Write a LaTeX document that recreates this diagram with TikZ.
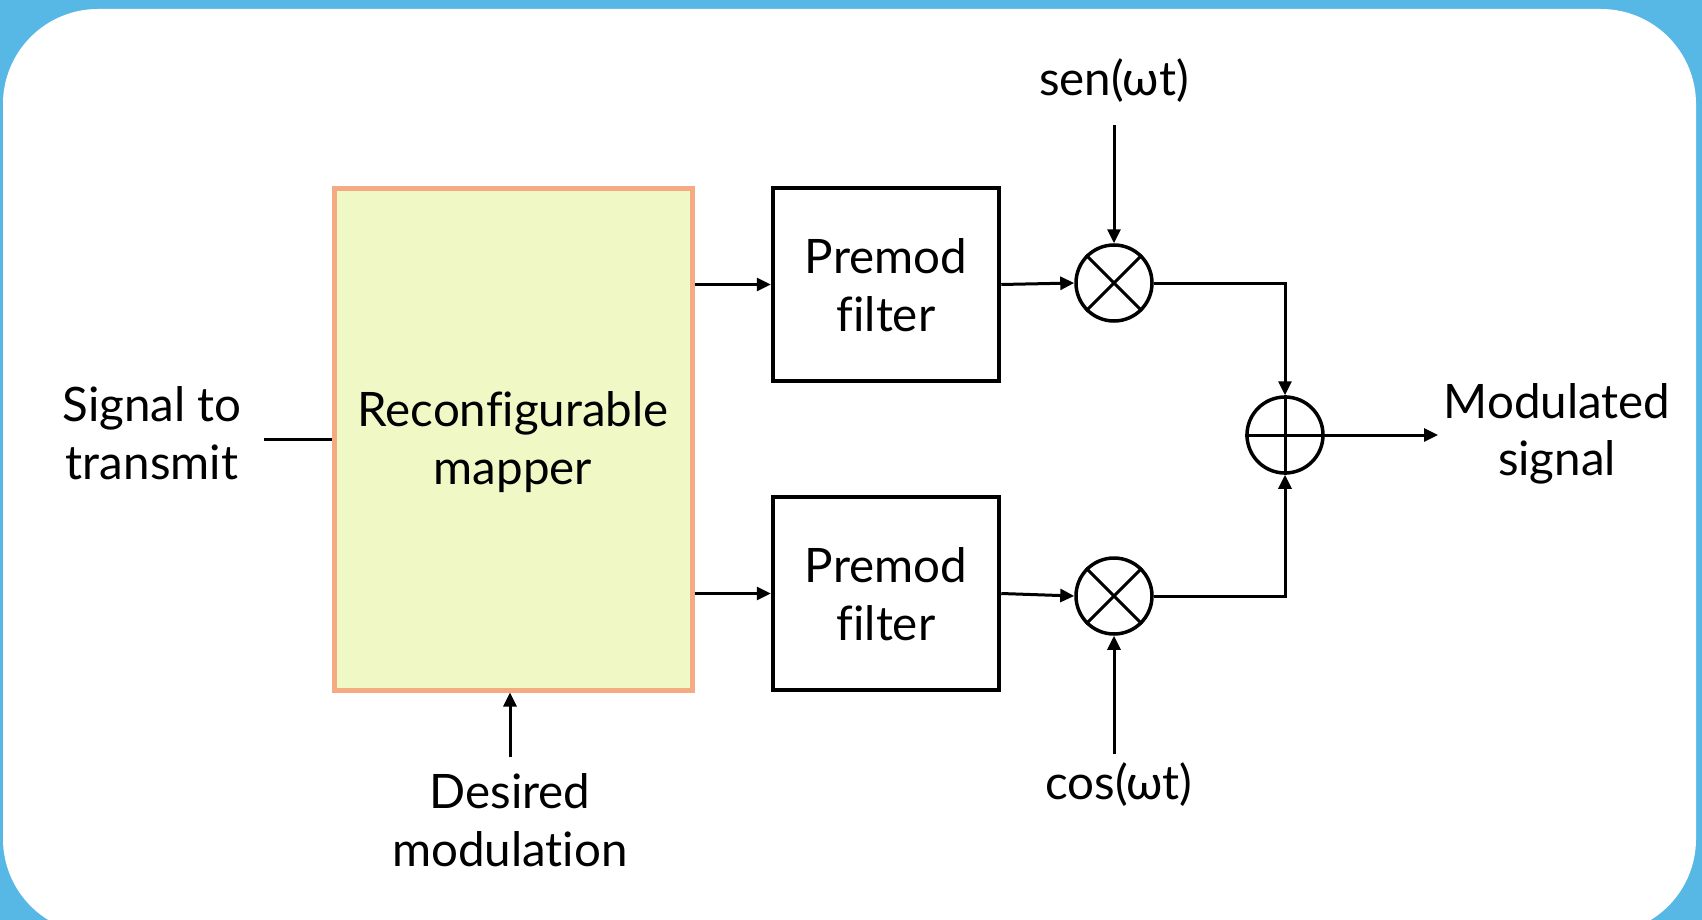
\documentclass[tikz,border=0pt]{standalone}
\usepackage{fontspec}
\setmainfont[Ligatures=NoCommon]{Lato}
\usetikzlibrary{arrows.meta}
\definecolor{frameblue}{RGB}{87,184,230}
\definecolor{mapfill}{RGB}{240,249,197}
\definecolor{mapborder}{RGB}{244,170,130}
\tikzset{
  lbl/.style={align=center,font=\fontsize{47.5}{57.5}\selectfont,inner sep=0pt},
  mapbox/.style={draw=mapborder,fill=mapfill,line width=5pt,minimum width=357.5pt,minimum height=501.5pt,inner sep=0pt},
  filtbox/.style={draw=black,line width=4.5pt,minimum width=226pt,minimum height=193pt,inner sep=0pt},
  mixer/.style={draw=black,circle,line width=3.5pt,minimum size=76pt,inner sep=0pt},
  conn/.style={line width=3pt},
  arr/.style={line width=3pt,-{Triangle[length=14pt,width=13pt]}}
}
\begin{document}
\begin{tikzpicture}[x=1pt,y=-1pt]
\useasboundingbox (0,0) rectangle (1702,920);
\clip (0,0) rectangle (1702,920);
\fill[frameblue] (0,0) rectangle (1702,920);
\fill[white,rounded corners=95pt] (3,9) rectangle (1696,934);

\node[mapbox] (map) at (513.25,439.25) {};
\node[lbl] (maptxt) at (513,442) {Reconfigurable\\mapper};
\node[filtbox] (f1) at (886,284.5) {};
\node[lbl] (f1txt) at (886,285) {Premod\\filter};
\node[filtbox] (f2) at (886,593.5) {};
\node[lbl] (f2txt) at (886,594) {Premod\\filter};

\node[mixer] (m1) at (1114,283) {};
\draw[conn] (m1.north west) -- (m1.south east) (m1.north east) -- (m1.south west);
\node[mixer] (m2) at (1114,596) {};
\draw[conn] (m2.north west) -- (m2.south east) (m2.north east) -- (m2.south west);
\node[mixer] (ad) at (1285,435) {};
\draw[conn] (ad.north) -- (ad.south) (ad.west) -- (ad.east);

\node[lbl] (sig) at (152,433) {Signal to\\transmit};
\node[lbl] (des) at (510,820) {Desired\\modulation};
\node[lbl] (outl) at (1557,434) {Modulated\\signal};
\node[lbl] (sen) at (1114,81) {sen(ωt)};
\node[lbl] (cos) at (1119,785) {cos(ωt)};

\coordinate (sigin) at (264,439);
\coordinate (desbot) at (510,757);
\coordinate (sentop) at (1114,125);
\coordinate (cosbot) at (1114,754);
\coordinate (outend) at (1438,435);

\draw[conn] (sigin) -- (sigin -| map.west);
\draw[arr] (desbot) -- (desbot |- map.south);
\draw[arr] (map.east |- f1.west) -- (f1.west);
\draw[arr] (map.east |- f2.west) -- (f2.west);
\draw[arr] (f1.east) -- (m1.west);
\draw[arr] (f2.east) -- (m2.west);
\draw[arr] (sentop) -- (m1.north);
\draw[arr] (cosbot) -- (m2.south);
\draw[arr] (m1.east) -| (ad.north);
\draw[arr] (m2.east) -| (ad.south);
\draw[arr] (ad.east) -- (outend);
\end{tikzpicture}
\end{document}
